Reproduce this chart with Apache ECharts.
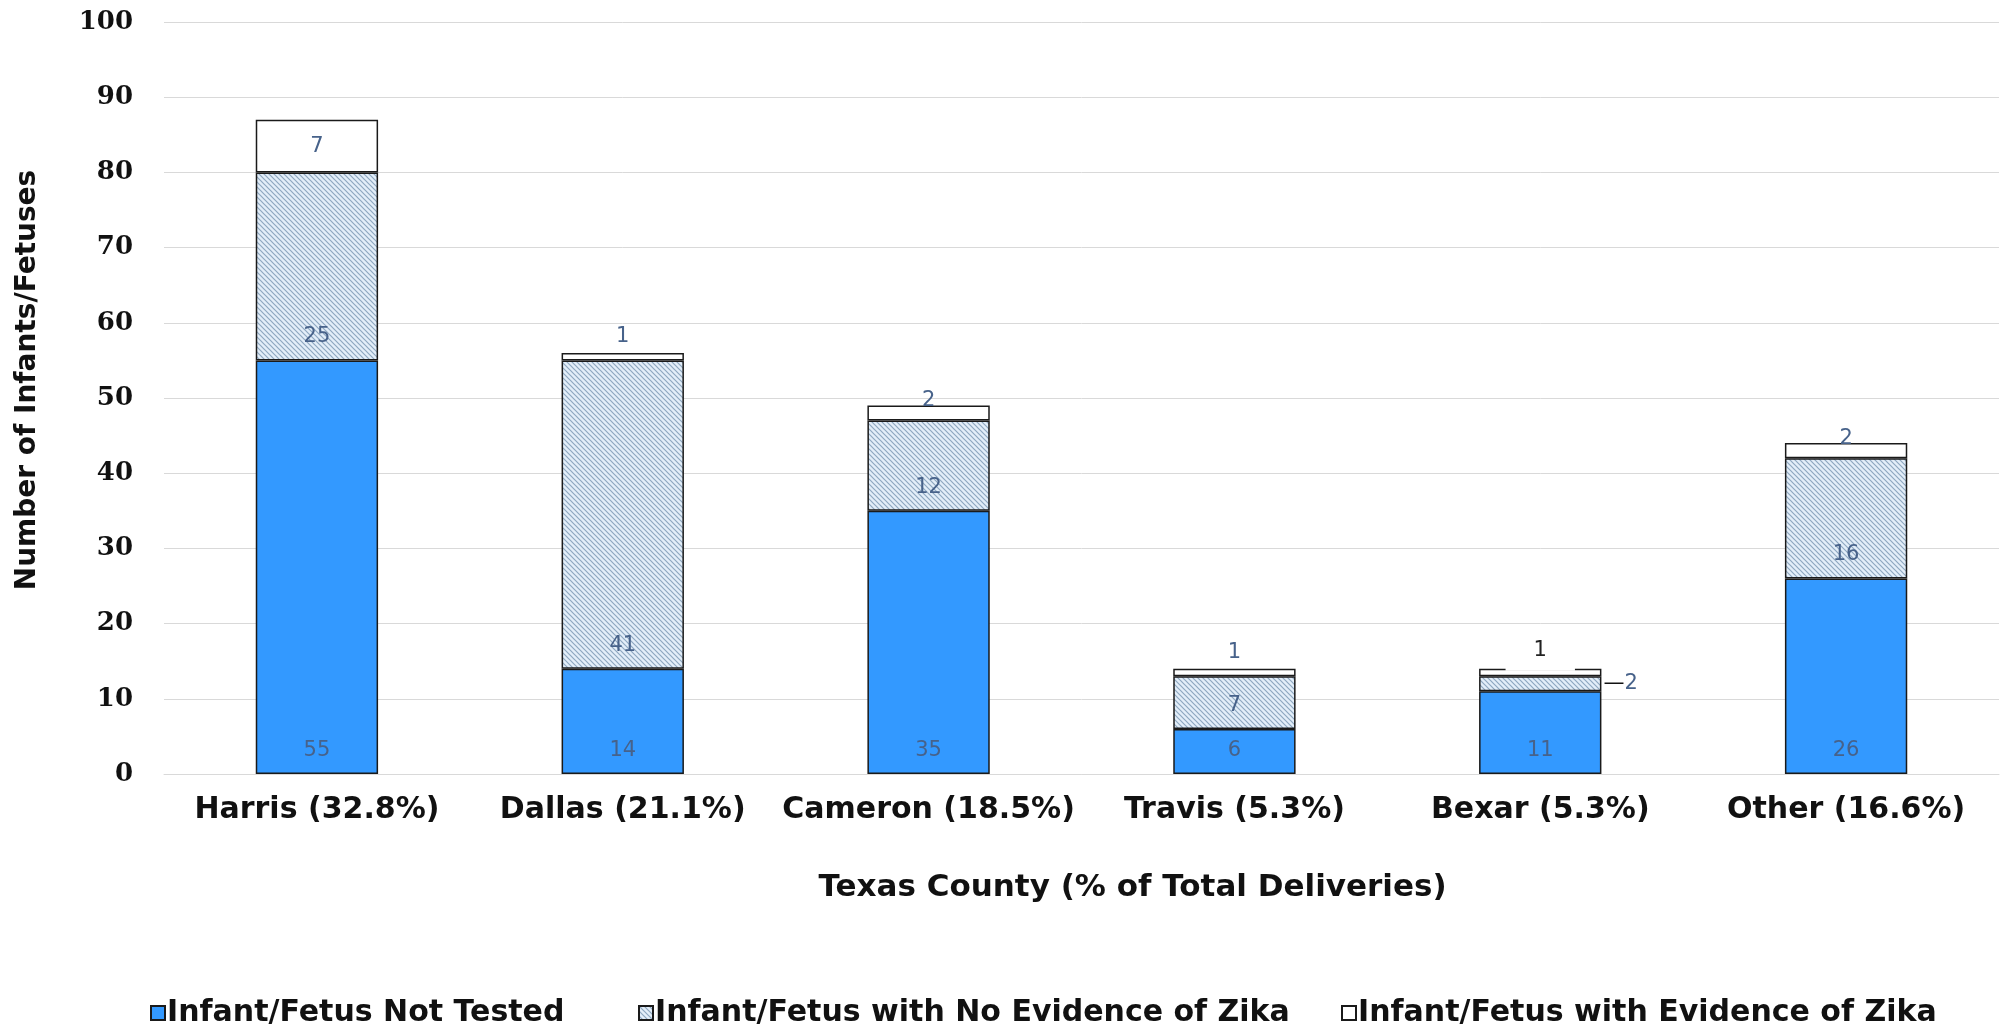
<!DOCTYPE html>
<html>
<head>
<meta charset="utf-8">
<script src="https://cdn.jsdelivr.net/npm/echarts@6/dist/echarts.min.js"></script>
<style>
  html, body { margin: 0; padding: 0; background: #fff; }
  #chart { width: 2006px; height: 1027px; }
</style>
</head>
<body>
<div id="chart"></div>
<script>
const counties = ['Harris (32.8%)', 'Dallas (21.1%)', 'Cameron (18.5%)', 'Travis (5.3%)', 'Bexar (5.3%)', 'Other (16.6%)'];
const notTested = [55, 14, 35, 6, 11, 26];
const noEvidence = [25, 41, 12, 7, 2, 16];
const withEvidence = [7, 1, 2, 1, 1, 2];
const seriesNames = ['Infant/Fetus Not Tested', 'Infant/Fetus with No Evidence of Zika', 'Infant/Fetus with Evidence of Zika'];

// hatch pattern for the "no evidence" series
function makeHatch() {
  const c = document.createElement('canvas');
  c.width = 5; c.height = 5;
  const ctx = c.getContext('2d');
  ctx.fillStyle = '#e3eef9';
  ctx.fillRect(0, 0, 5, 5);
  ctx.strokeStyle = '#8ea7c0';
  ctx.lineWidth = 1.2;
  ctx.beginPath();
  ctx.moveTo(-1, -1); ctx.lineTo(6, 6);
  ctx.moveTo(-1, 4); ctx.lineTo(1, 6);
  ctx.moveTo(4, -1); ctx.lineTo(6, 1);
  ctx.stroke();
  return c;
}

const chart = echarts.init(document.getElementById('chart'));
const labelColor = '#47628a';
const font = 'DejaVu Sans, Verdana, sans-serif';

const option = {
  animation: false,
  textStyle: { fontFamily: font },
  grid: { left: 164, right: 7, top: 22, bottom: 253, containLabel: false },
  legend: [
    { data: [seriesNames[0]], left: 145 },
    { data: [seriesNames[1]], left: 633 },
    { data: [seriesNames[2]], left: 1336 }
  ].map(l => Object.assign(l, {
    top: 993,
    icon: 'rect', itemWidth: 14, itemHeight: 14, itemGap: 6,
    textStyle: { fontSize: 30, fontWeight: 'bold', color: '#111', fontFamily: font, padding: [0, 0, 0, -3] }
  })),
  xAxis: {
    type: 'category',
    data: counties,
    name: 'Texas County (% of Total Deliveries)',
    nameLocation: 'middle',
    nameGap: 98,
    nameTextStyle: { fontSize: 31, fontWeight: 'bold', color: '#111', padding: [0, 0, 0, 102] },
    axisLine: { lineStyle: { color: '#d9d9d9' } },
    axisTick: { show: false },
    axisLabel: { interval: 0, fontSize: 30, fontWeight: 'bold', color: '#111', margin: 21 }
  },
  yAxis: {
    type: 'value',
    min: 0, max: 100, interval: 10,
    name: 'Number of Infants/Fetuses',
    nameLocation: 'middle',
    nameGap: 122,
    nameTextStyle: { fontSize: 28, fontWeight: 'bold', color: '#111', padding: [0, 0, 0, 36] },
    axisLine: { show: false },
    axisTick: { show: false },
    axisLabel: { fontSize: 26, fontWeight: 'bold', color: '#111', margin: 31, fontFamily: 'DejaVu Serif, serif' },
    splitLine: { lineStyle: { color: '#d9d9d9', width: 1 } }
  },
  series: [
    {
      name: seriesNames[0], type: 'bar', stack: 'total', barWidth: '40%',
      data: notTested,
      itemStyle: { color: '#3399ff', borderColor: '#1a1a1a', borderWidth: 1.5 },
      label: { show: true, position: 'insideBottom', distance: 13, fontSize: 21, color: labelColor }
    },
    {
      name: seriesNames[1], type: 'bar', stack: 'total',
      data: noEvidence.map((v, i) => i === 4
        ? { value: v, label: { position: 'right', distance: 2, formatter: '{d|\u2014}{v|{c}}', color: labelColor } }
        : v),
      itemStyle: { color: { image: makeHatch(), repeat: 'repeat' }, borderColor: '#1a1a1a', borderWidth: 1.5 },
      label: {
        show: true, position: 'insideBottom', distance: 13, fontSize: 21, color: labelColor,
        rich: { d: { fontSize: 21, color: '#111' }, v: { fontSize: 21, color: labelColor } }
      }
    },
    {
      name: seriesNames[2], type: 'bar', stack: 'total',
      data: withEvidence.map((v, i) => {
        if (i === 0) return { value: v, label: { position: 'inside' } };
        if (i === 4) return { value: v, label: { position: 'top', distance: -2, backgroundColor: '#fff', padding: [0, 28, 10, 28], color: '#222' } };
        if (i === 2 || i === 5) return { value: v, label: { position: 'top', distance: -6 } };
        return { value: v, label: { position: 'top', distance: 6 } };
      }),
      itemStyle: { color: '#ffffff', borderColor: '#1a1a1a', borderWidth: 1.5 },
      label: { show: true, fontSize: 21, color: labelColor }
    }
  ]
};

chart.setOption(option);
window.addEventListener('resize', () => {
  chart.resize();
});
</script>
</body>
</html>
